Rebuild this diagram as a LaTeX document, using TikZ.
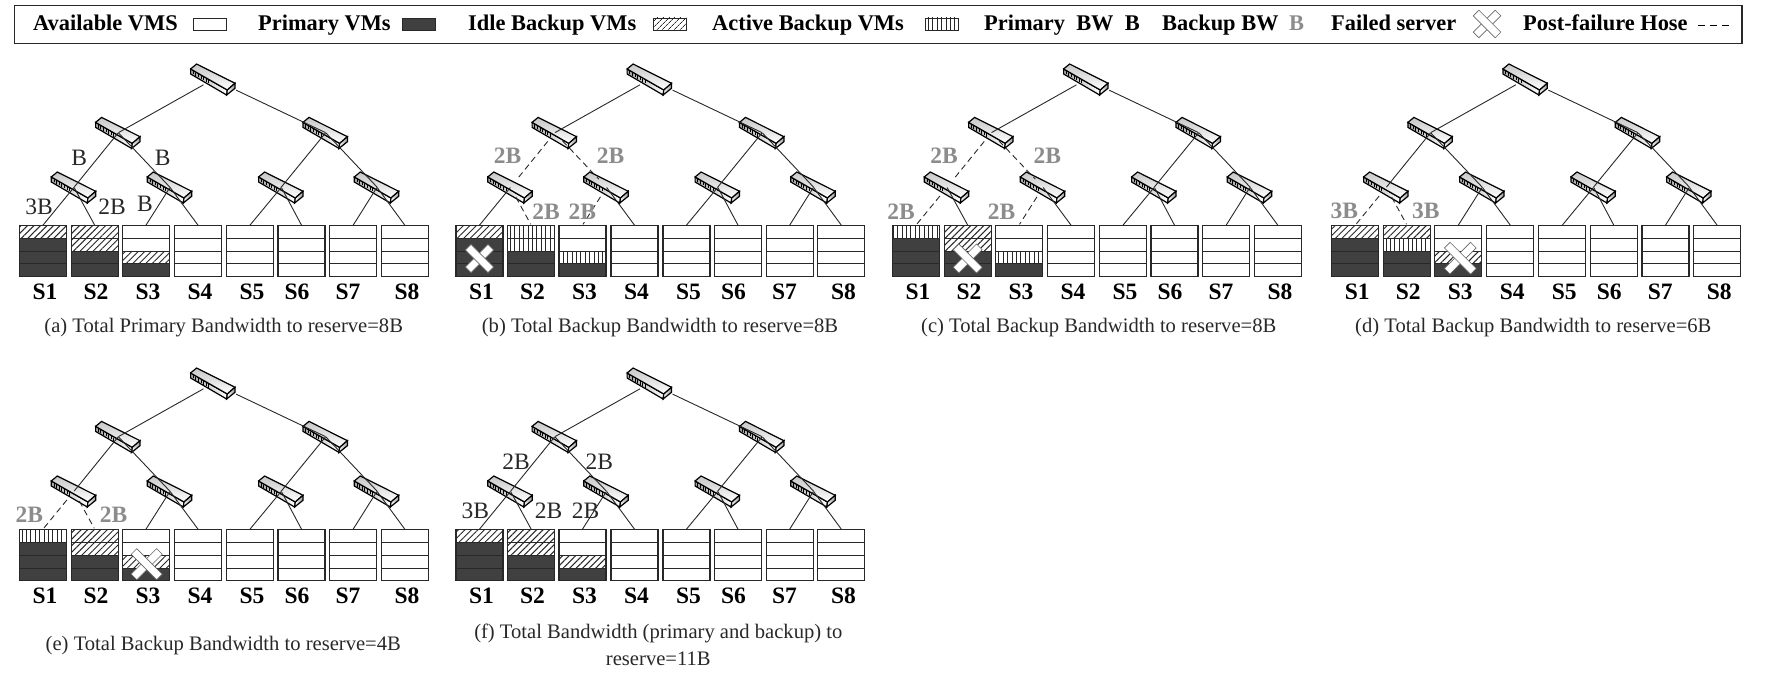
\documentclass[tikz,border=0pt]{standalone}
\usepackage{fontspec}
\setmainfont{Liberation Serif}
\usetikzlibrary{patterns.meta}
\definecolor{ink}{RGB}{40,40,40}
\definecolor{darkvm}{RGB}{64,64,64}
\definecolor{bwgrey}{RGB}{140,140,140}
\tikzset{
  cellbase/.style={rectangle,draw=ink,line width=0.9pt,minimum width=47pt,minimum height=12.75pt,inner sep=0pt},
  celle/.style={cellbase,fill=white},
  cellp/.style={cellbase,fill=darkvm},
  celli/.style={cellbase,pattern={Lines[angle=45,distance=4.6pt,line width=1pt]},pattern color=ink},
  cella/.style={cellbase,pattern={Lines[angle=90,distance=4.4pt,line width=0.9pt]},pattern color=ink},
  srv/.style={rectangle,draw=ink,line width=1.1pt,minimum width=47pt,minimum height=51pt,inner sep=0pt},
  hubpt/.style={circle,inner sep=0pt,minimum size=0.1pt},
  lnk/.style={draw=ink,line width=0.9pt},
  bak/.style={draw=ink,line width=0.9pt,dash pattern=on 6pt off 4pt,shorten <=11pt,shorten >=1pt},
  srvlab/.style={font=\fontsize{23.5}{23.5}\selectfont\bfseries,inner sep=0pt},
  caplab/.style={font=\fontsize{20.6}{26.6}\selectfont,align=center,inner sep=0pt,text=ink},
  pribw/.style={font=\fontsize{23.5}{23.5}\selectfont,inner sep=0pt,text=ink},
  bakbw/.style={font=\fontsize{23.5}{23.5}\selectfont\bfseries,inner sep=0pt,text=bwgrey},
  lgd/.style={font=\fontsize{22.4}{22.4}\selectfont\bfseries,inner sep=0pt,anchor=base west},
  icon/.style={rectangle,draw=ink,line width=0.9pt,minimum width=33pt,minimum height=12pt,inner sep=0pt},
  bar/.style={rectangle,draw=black!60,line width=0.6pt,fill=white,minimum width=#1,minimum height=8pt,inner sep=0pt},
  hubpic/.pic={
    \shade[left color=black!35,right color=white,draw=black,line width=1.2pt]
      (-22.7,-10.3)--(14,10.7)--(13.3,15.7)--(-22.7,-5.3)--cycle;
    \shade[top color=black!22,bottom color=white,draw=black,line width=1.2pt]
      (-22.7,-10.3)--(-16.7,-15.3)--(21.7,4)--(14,10.7)--cycle;
    \shade[left color=white,right color=black!40,draw=black,line width=1.2pt]
      (14,10.7)--(21.7,4)--(21.7,9)--(13.3,15.7)--cycle;
    \foreach \t in {0,...,6}
      \draw[line width=1pt] (-20+2.6*\t,-8.2+1.5*\t)--++(0,3.4);
  },
}
% one switch: picture plus the named point that links end on
\newcommand{\hub}[3]{
  \pic at (#2,#3) {hubpic};
  \node[hubpt] (#1) at (#2,#3) {};
}
% one server: four cells, top to bottom, then its frame
\newcommand{\rack}[3]{
  \foreach \c [count=\i] in {#3}
    \node[cell\c] (#1c\i) at (#2,{225.7+12.75*(\i-0.5)}) {};
  \node[srv] (#1) at (#2,251.2) {};
}
% white cross on a failed server
\newcommand{\failx}[3]{
  \node[bar=#3,rotate=45] (xa) at (#1,{251.2+#2}) {};
  \node[bar=#3,rotate=-45] (xb) at (#1,{251.2+#2}) {};
}
% everything that stays the same from panel to panel
\newcommand{\fabric}{
  \hub{root}{213.3}{79.3}
  \hub{L}{118.3}{132.7}
  \hub{R}{325.7}{132.7}
  \hub{A}{74}{187.3}
  \hub{B}{170}{187.3}
  \hub{C}{281.3}{187.3}
  \hub{D}{377}{187.3}
  \foreach \n/\x in {S4/198,S5/250,S6/301.5,S7/353.2,S8/404.8}{
    \rack{\n}{\x}{e,e,e,e}
  }
}
\newcommand{\uplinks}{
  \draw[lnk,shorten <=11pt] (root)--(L);
  \draw[lnk,shorten <=25pt] (root)--(R);
  \foreach \u/\v in {R/C,R/D,C/S5,C/S6,D/S7,D/S8}
    \draw[lnk] (\u)--(\v.north);
  \foreach \n/\x in {S1/45,S2/96,S3/148,S4/200,S5/252,S6/297,S7/348,S8/407}
    \node[srvlab] (t\n) at (\x,292) {\n};
}
\begin{document}
\begin{tikzpicture}[x=1pt,y=-1pt]
\useasboundingbox (0,0) rectangle (1765,676);
% legend
\node[rectangle,draw=ink,line width=1.1pt,minimum width=1727.3pt,minimum height=38.4pt,inner sep=0pt] (frame) at (878.35,24.5) {};
\node[lgd] (lgA) at (33,30.5) {Available VMS};
\node[icon,fill=white] (icA) at (209.5,24) {};
\node[lgd] (lgB) at (258,30.5) {Primary VMs};
\node[icon,fill=darkvm] (icB) at (419,24) {};
\node[lgd] (lgC) at (468,30.5) {Idle Backup VMs};
\node[icon,pattern={Lines[angle=45,distance=4pt,line width=0.8pt]},pattern color=ink] (icC) at (669.5,24) {};
\node[lgd] (lgD) at (712,30.5) {Active Backup VMs};
\node[icon,pattern={Lines[angle=90,distance=4.4pt,line width=0.8pt]},pattern color=ink] (icD) at (942,24) {};
\node[lgd] (lgE) at (984,30.5) {Primary\ \ BW\ \ B};
\node[lgd] (lgF) at (1162,30.5) {Backup BW};
\node[lgd,text=bwgrey] (lgG) at (1289,30.5) {B};
\node[lgd] (lgH) at (1331,30.5) {Failed server};
\node[bar=31pt,rotate=45] (icXa) at (1487,24) {};
\node[bar=31pt,rotate=-45] (icXb) at (1487,24) {};
\node[lgd] (lgI) at (1523,30.5) {Post-failure Hose};
\coordinate (dashA) at (1698,25);
\coordinate (dashB) at (1729,25);
\draw[line width=0.8pt,dash pattern=on 7pt off 5pt] (dashA)--(dashB);
% (a)
\begin{scope}[name prefix=a-]
  \fabric
  \rack{S1}{43}{i,p,p,p}
  \rack{S2}{94.7}{i,i,p,p}
  \rack{S3}{146}{e,e,i,p}
  \uplinks
  \foreach \u/\v in {L/A,L/B} \draw[lnk] (\u)--(\v);
  \foreach \u/\v in {A/S1,A/S2,B/S3,B/S4} \draw[lnk] (\u)--(\v.north);
  \node[pribw] (w1) at (79.3,157.7) {B};
  \node[pribw] (w2) at (162.7,157.7) {B};
  \node[pribw] (w3) at (39,206.7) {3B};
  \node[pribw] (w4) at (112,206.7) {2B};
  \node[pribw] (w5) at (145,204.3) {B};
  \node[caplab] (cap) at (223.7,327.3) {(a) Total Primary Bandwidth to reserve=8B};
\end{scope}
% (b)
\begin{scope}[xshift=436.5pt,name prefix=b-]
  \fabric
  \rack{S1}{43}{i,p,p,p}
  \rack{S2}{94.7}{a,a,p,p}
  \rack{S3}{146}{e,e,a,p}
  \failx{43}{7.3}{32pt}
  \uplinks
  \foreach \u/\v in {L/A,L/B} \draw[bak,shorten >=11pt] (\u)--(\v);
  \foreach \u/\v in {A/S2,B/S3} \draw[bak] (\u)--(\v.north);
  \foreach \u/\v in {A/S1,B/S4} \draw[lnk] (\u)--(\v.north);
  \node[bakbw] (w1) at (71.2,155.3) {2B};
  \node[bakbw] (w2) at (174.2,155.3) {2B};
  \node[bakbw] (w3) at (109.5,211.3) {2B};
  \node[bakbw] (w4) at (145.8,211.3) {2B};
  \node[caplab] (cap) at (223.5,327.3) {(b) Total Backup Bandwidth to reserve=8B};
\end{scope}
% (c)
\begin{scope}[xshift=873pt,name prefix=c-]
  \fabric
  \rack{S1}{43}{a,p,p,p}
  \rack{S2}{94.7}{i,i,p,p}
  \rack{S3}{146}{e,e,a,p}
  \failx{94.7}{7.3}{33pt}
  \uplinks
  \foreach \u/\v in {L/A,L/B} \draw[bak,shorten >=11pt] (\u)--(\v);
  \foreach \u/\v in {A/S1,B/S3} \draw[bak] (\u)--(\v.north);
  \foreach \u/\v in {A/S2,B/S4} \draw[lnk] (\u)--(\v.north);
  \node[bakbw] (w1) at (71,155.3) {2B};
  \node[bakbw] (w2) at (174.3,155.3) {2B};
  \node[bakbw] (w3) at (28,211.3) {2B};
  \node[bakbw] (w4) at (128.7,211.3) {2B};
  \node[caplab] (cap) at (225.7,327.3) {(c) Total Backup Bandwidth to reserve=8B};
\end{scope}
% (d)
\begin{scope}[xshift=1312.3pt,name prefix=d-]
  \fabric
  \rack{S1}{43}{i,p,p,p}
  \rack{S2}{94.7}{i,a,p,p}
  \rack{S3}{146}{e,e,i,p}
  \failx{148}{7}{37pt}
  \uplinks
  \foreach \u/\v in {L/A,L/B} \draw[lnk] (\u)--(\v);
  \foreach \u/\v in {B/S3,B/S4} \draw[lnk] (\u)--(\v.north);
  \foreach \u/\v in {A/S1,A/S2} \draw[bak] (\u)--(\v.north);
  \node[bakbw] (w1) at (32,211.3) {3B};
  \node[bakbw] (w2) at (113.4,211.3) {3B};
  \node[caplab] (cap) at (221,327.3) {(d) Total Backup Bandwidth to reserve=6B};
\end{scope}
% (e)
\begin{scope}[yshift=-304pt,name prefix=e-]
  \fabric
  \rack{S1}{43}{a,p,p,p}
  \rack{S2}{94.7}{i,i,p,p}
  \rack{S3}{146}{e,e,i,p}
  \failx{146.7}{9}{36pt}
  \uplinks
  \foreach \u/\v in {L/A,L/B} \draw[lnk] (\u)--(\v);
  \foreach \u/\v in {B/S3,B/S4} \draw[lnk] (\u)--(\v.north);
  \foreach \u/\v in {A/S1,A/S2} \draw[bak] (\u)--(\v.north);
  \node[bakbw] (w1) at (29.3,210.7) {2B};
  \node[bakbw] (w2) at (113.7,210.7) {2B};
  \node[caplab] (cap) at (223.3,341.7) {(e) Total Backup Bandwidth to reserve=4B};
\end{scope}
% (f)
\begin{scope}[xshift=436.5pt,yshift=-304pt,name prefix=f-]
  \fabric
  \rack{S1}{43}{i,p,p,p}
  \rack{S2}{94.7}{i,i,p,p}
  \rack{S3}{146}{e,e,i,p}
  \uplinks
  \foreach \u/\v in {L/A,L/B} \draw[lnk] (\u)--(\v);
  \foreach \u/\v in {A/S1,A/S2,B/S3,B/S4} \draw[lnk] (\u)--(\v.north);
  \node[pribw] (w1) at (79.5,157.7) {2B};
  \node[pribw] (w2) at (162.8,157.7) {2B};
  \node[pribw] (w3) at (38.8,206.7) {3B};
  \node[pribw] (w4) at (112.2,206.7) {2B};
  \node[pribw] (w5) at (149.2,206.7) {2B};
  \node[caplab] (cap) at (221.8,341) {(f) Total Bandwidth (primary and backup) to\\reserve=11B};
\end{scope}
\end{tikzpicture}
\end{document}
